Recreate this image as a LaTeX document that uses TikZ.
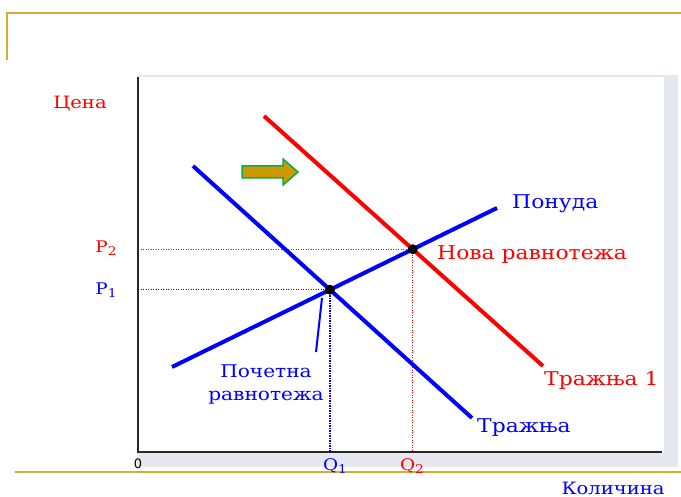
\documentclass[tikz,border=0pt]{standalone}
\usepackage{fontspec}
\setmainfont[FakeStretch=1.15]{DejaVu Serif}
\newfontfamily\zerofont{DejaVu Sans}
\usetikzlibrary{calc,intersections}
\definecolor{goldline}{RGB}{214,172,52}
\definecolor{panelgray}{RGB}{230,232,240}
\definecolor{arrowfill}{RGB}{204,153,0}
\definecolor{arrowedge}{RGB}{0,176,80}
\definecolor{axisgray}{RGB}{40,40,40}
\newcommand{\subidx}[1]{\raisebox{-0.4ex}{\fontsize{12}{12}\selectfont #1}}
\tikzset{
  curve/.style={line width=4pt},
  guide/.style={dash pattern=on 1.3pt off 1.2pt, line width=1.4pt},
  eqdot/.style={circle, fill=black, inner sep=0pt, minimum size=10pt},
  lbl/.style={font=\fontsize{19}{22}\selectfont, inner sep=0pt},
  axlbl/.style={font=\fontsize{17}{20}\selectfont, inner sep=0pt},
  sublbl/.style={font=\fontsize{16}{19}\selectfont, inner sep=0pt},
}
\begin{document}
\begin{tikzpicture}[x=1pt,y=-1pt]
\useasboundingbox (0,0) rectangle (681,497);
% frame lines
\draw[goldline, line width=1.5pt] (7,60) -- (7,13) -- (681,13);
\draw[goldline, line width=1.5pt] (15,472) -- (681,472);
% panel
\fill[panelgray] (137,75) rectangle (678,467);
\fill[white] (139,77) rectangle (664,452);
% axes
\coordinate (O) at (138,452);
\coordinate (ytop) at (138,77);
\coordinate (xend) at (662,452);
\draw[axisgray, line width=2pt] (ytop) -- (O) -- (xend);
\node[font=\zerofont\fontsize{13}{15}\selectfont, inner sep=0pt] (zero) at (138,464) {0};
% curves
\coordinate (s1) at (172,367); \coordinate (s2) at (497,208);
\coordinate (d1) at (193,166); \coordinate (d2) at (472,418);
\coordinate (n1) at (264,116); \coordinate (n2) at (543,366);
\path[name path=supply] (s1) -- (s2);
\path[name path=demand] (d1) -- (d2);
\path[name path=newdemand] (n1) -- (n2);
\path[name intersections={of=supply and demand, by=E1}];
\path[name intersections={of=supply and newdemand, by=E2}];
% guides
\coordinate (p1) at (O |- E1); \coordinate (q1) at (E1 |- O);
\coordinate (p2) at (O |- E2); \coordinate (q2) at (E2 |- O);
\draw[guide, blue] (p1) -- (E1) -- (q1);
\draw[guide, red] (p2) -- (E2) -- (q2);
\draw[curve, red] (n1) -- (n2);
\draw[curve, blue] (d1) -- (d2);
\draw[curve, blue] (s1) -- (s2);
\node[eqdot] (e1) at (E1) {};
\node[eqdot] (e2) at (E2) {};
% labels
\node[axlbl, red] (cena) at (80,104) {Цена};
\node[axlbl, blue, anchor=base] (kol) at (613,494) {Количина};
\node[sublbl, red] (P2) at (106,248) {P\subidx{2}};
\node[sublbl, blue] (P1) at (106,290) {P\subidx{1}};
\node[sublbl, blue] (Q1) at (335,466) {Q\subidx{1}};
\node[sublbl, red] (Q2) at (412,466) {Q\subidx{2}};
\node[lbl, blue, anchor=west] (ponuda) at (512,204) {Понуда};
\node[lbl, blue, anchor=west] (traznja) at (477,428) {Тражња};
\node[lbl, red, anchor=west] (traznja1) at (544,380) {Тражња 1};
\node[lbl, red, anchor=west] (nova) at (437,255) {Нова равнотежа};
\node[axlbl, blue, align=center, font=\fontsize{17.5}{23}\selectfont] (pocetna) at (266,384) {Почетна\\равнотежа};
\coordinate (ptrA) at (316,352);
\coordinate (ptrB) at (322,298);
\draw[blue, line width=2pt] (ptrA) -- (ptrB);
% shift arrow
\draw[arrowedge, fill=arrowfill, line width=1.5pt, line join=miter]
  (242,166) -- (283,166) -- (283,159) -- (298,172) -- (283,185) -- (283,178) -- (242,178) -- cycle;
\end{tikzpicture}
\end{document}
